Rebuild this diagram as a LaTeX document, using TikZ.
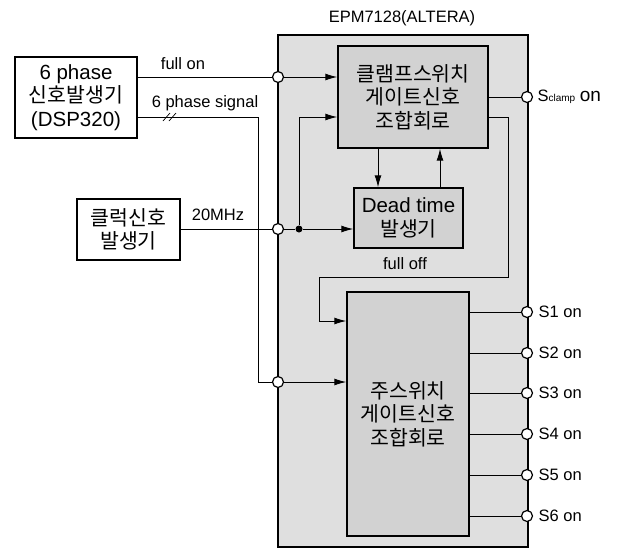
\documentclass[tikz,border=0pt]{standalone}
\usepackage{fontspec}
\setmainfont{Liberation Sans}
\newfontfamily\kr{Noto Sans CJK KR}
\usetikzlibrary{arrows.meta,calc}

\begin{document}
\begin{tikzpicture}[x=1pt, y=-1pt, >={Latex[length=12pt,width=7pt]}, line width=1pt,
    blk/.style={draw, line width=1.4pt, fill=gray!35, align=center, inner sep=0pt,
        font=\fontsize{20.5}{23.5}\selectfont},
    extbox/.style={blk, fill=white},
    port/.style={draw, circle, fill=white, inner sep=0pt, minimum size=11pt, line width=1.2pt},
    tap/.style={fill, circle, inner sep=0pt, minimum size=7pt},
    lbl/.style={font=\fontsize{16.5}{18}\selectfont, inner sep=1pt}]
    % ==== DEFINITIONS ====
    \def\pinx{278} % left border of the FPGA
    \def\outx{527} % right border of the FPGA

    \useasboundingbox (0,0) rectangle (622,549);

    % ==== FPGA ====
    \node[blk, fill=gray!25, minimum width=250, minimum height=512] (fpga) at (403,291) {};
    \node[lbl] (title) at (402,18) {EPM7128(ALTERA)};

    % ==== BLOCKS ====
    \node[blk, minimum width=150, minimum height=102] (clamp) at (413,97) {\kr 클램프스위치\\\kr 게이트신호\\\kr 조합회로};
    \node[blk, minimum width=109, minimum height=60] (dead) at (408.5,218) {Dead time\\\kr 발생기};
    \node[blk, minimum width=122, minimum height=244] (main) at (408,414) {\kr 주스위치\\\kr 게이트신호\\\kr 조합회로};

    % ==== SOURCES ====
    \node[extbox, minimum width=122, minimum height=81] (phase) at (76,97.5) {6 phase\\\kr 신호발생기\\(DSP320)};
    \node[extbox, minimum width=103, minimum height=61] (clock) at (128.5,229.5) {\kr 클럭신호\\\kr 발생기};

    % ==== INPUT PINS ====
    \node[port] (pin1) at (\pinx,77) {};
    \node[port] (pin2) at (\pinx,229) {};
    \node[port] (pin3) at (\pinx,382) {};
    \node[tap] (split) at (299,229) {};
    \coordinate (bend) at (258,117);
    \coordinate (offr) at (508,277);
    \coordinate (offin) at (319,321);

    % ==== full on ====
    \draw (phase.east |- pin1) -- (pin1);
    \node[lbl] (fullon) at (183,64) {full on};
    \draw[->] (pin1) -- (clamp.west |- pin1);

    % ==== 6 phase signal ====
    \draw (phase.east |- bend) -- (bend) |- (pin3);
    \draw[->] (pin3) -- (main.west |- pin3);
    \node[lbl] (sig) at (205,103) {6 phase signal};
    \draw[line width=0.7pt] (163,121) -- (170,113) (169,121) -- (176,113);

    % ==== CLOCK ====
    \draw (clock.east |- pin2) -- (pin2) -- (split);
    \node[lbl] (mhz) at (218,215) {20MHz};
    \draw[->] (split) -- (dead.west |- split);
    \draw[->] (split) |- ($(clamp.west)+(0,20)$);

    % ==== DEAD TIME LOOP ====
    \draw[->] (clamp.south -| 378,0) -- (dead.north -| 378,0);
    \draw[->] (dead.north -| 440,0) -- (clamp.south -| 440,0);

    % ==== full off ====
    \draw[->] ($(clamp.east)+(0,20)$) -| (offr) -| (offin) -- (main.west |- offin);
    \node[lbl] (fulloff) at (405,264) {full off};

    % ==== OUTPUTS ====
    \node[port] (sc) at (\outx,97) {};
    \draw (clamp.east |- sc) -- (sc);
    \node[lbl, anchor=west] (sclbl) at ($(sc.east)+(3,0)$) {S{\fontsize{10}{11}\selectfont clamp} {\fontsize{19}{20}\selectfont on}};
    \foreach \i/\yy in {1/312, 2/353, 3/393, 4/434, 5/475, 6/516} {
        \node[port] (s\i) at (\outx,\yy) {};
        \draw (main.east |- s\i) -- (s\i);
        \node[lbl, anchor=west] (s\i lbl) at ($(s\i.east)+(4,0)$) {S\i{} on};
    }
\end{tikzpicture}
\end{document}
